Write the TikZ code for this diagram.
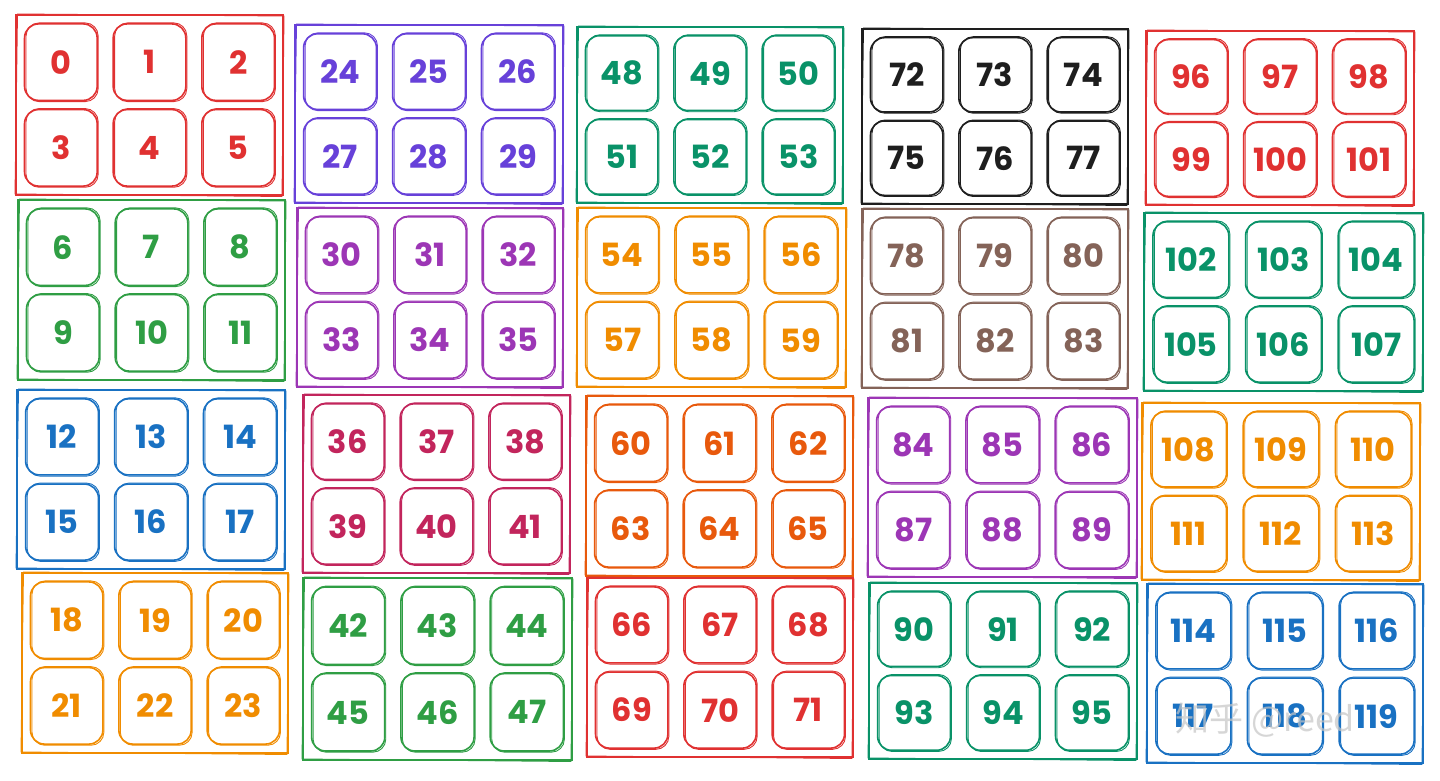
\documentclass[tikz,border=0pt]{standalone}
\usepackage{fontspec}
\setmainfont{Poppins}
\newfontfamily\cjk{Noto Sans CJK SC}
\definecolor{cred}{HTML}{E03131}
\definecolor{cgreen}{HTML}{2F9E44}
\definecolor{cblue}{HTML}{1971C2}
\definecolor{corange}{HTML}{F08C00}
\definecolor{cviolet}{HTML}{6741D9}
\definecolor{cgrape}{HTML}{9C36B5}
\definecolor{cpink}{HTML}{C2255C}
\definecolor{cteal}{HTML}{099268}
\definecolor{cburnt}{HTML}{E8590C}
\definecolor{cblack}{HTML}{1E1E1E}
\definecolor{cbrown}{HTML}{846358}
\tikzset{
  grp/.style={draw, line width=1.8pt, inner sep=0pt},
  cellbox/.style={draw, line width=1.6pt, rounded corners=14pt, inner sep=0pt,
     font=\bfseries\fontsize{32}{32}\selectfont},
  sketch/.style={line width=0.9pt},
}
\begin{document}
\begin{tikzpicture}[x=1pt,y=-1pt]
\useasboundingbox (0,0) rectangle (1440,781);
\fill[white] (0,0) rectangle (1440,781);
\foreach \g/\x/\y/\w/\h/\col in {
  0/16/15/267/180/cred, 1/18/200/267/180/cgreen, 2/17/390/268/179/cblue, 3/22/573/266/180/corange,
  4/295/25/268/178/cviolet, 5/297/208/266/179/cgrape, 6/303/395/267/178/cpink, 7/303/578/269/182/cgreen,
  8/577/27/266/176/cteal, 9/577/208/269/179/corange, 10/586/396/267/180/cburnt, 11/587/578/266/179/cred,
  12/862/29/266/175/cblack, 13/862/209/266/179/cbrown, 14/868/398/269/179/cgrape, 15/869/583/268/176/cteal,
  16/1146/31/268/174/cred, 17/1144/213/279/178/cteal, 18/1142/403/278/177/corange, 19/1147/584/276/179/cblue}{
  \node[grp, draw=\col, minimum width=\w pt, minimum height=\h pt] (g\g) at ({\x+\w/2},{\y+\h/2}) {};
  \draw[sketch, \col] ({\x+1.5},{\y-1}) -- ({\x+\w+1},{\y+1}) -- ({\x+\w-1},{\y+\h+1.5}) -- ({\x-1},{\y+\h-1}) -- cycle;
  \foreach \r in {0,1}{
    \foreach \c in {0,1,2}{
      \pgfmathtruncatemacro\n{6*\g+3*\r+\c}
      \pgfmathsetmacro\cx{\x+\w*(0.168+0.332*\c)}
      \pgfmathsetmacro\cy{\y+\h*(0.262+0.476*\r)}
      \pgfmathsetmacro\cw{0.272*\w}
      \pgfmathsetmacro\ch{0.425*\h}
      \node[cellbox, draw=\col, text=\col, minimum width=\cw pt, minimum height=\ch pt] (c\n) at (\cx,\cy) {\n};
      \draw[sketch, \col, rounded corners=13pt] ({\cx-\cw/2+1.5},{\cy-\ch/2-1}) rectangle ({\cx+\cw/2+1},{\cy+\ch/2+1.2});
    }
  }
}
\node[text=gray!45, opacity=0.7, font=\cjk\fontsize{34}{34}\selectfont, anchor=west] (wm) at (1172,720) {知乎 @reed};
\end{tikzpicture}
\end{document}
